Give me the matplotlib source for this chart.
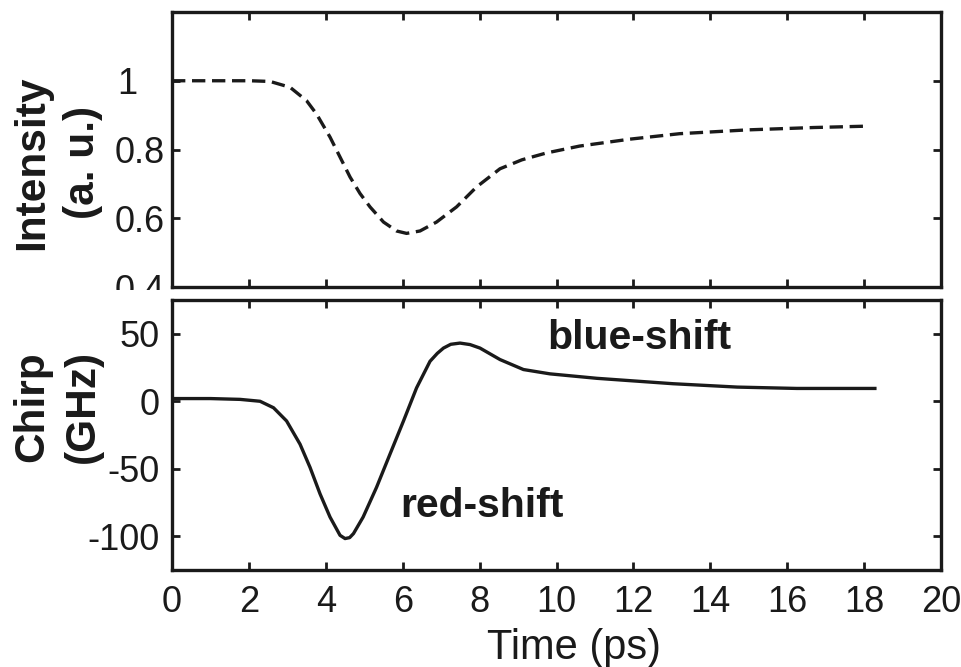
import matplotlib
matplotlib.use("Agg")
import matplotlib.pyplot as plt
from matplotlib.patches import Rectangle

# intensity (dashed, top panel)
t_int = [0, 1, 2.03, 2.55, 3.07, 3.5, 3.76, 4.11, 4.37, 4.63, 4.89, 5.15,
         5.5, 5.84, 6.1, 6.45, 6.88, 7.4, 7.92, 8.53, 9.1, 9.74, 10.6, 11.9,
         13.2, 14.95, 16.7, 18.1]
intensity = [1.0, 1.0, 1.0, 0.998, 0.981, 0.942, 0.903, 0.836, 0.778, 0.720,
             0.672, 0.633, 0.589, 0.563, 0.556, 0.563, 0.589, 0.633, 0.691,
             0.744, 0.770, 0.790, 0.810, 0.830, 0.846, 0.857, 0.864, 0.868]

# chirp (solid, bottom panel)
t_chirp = [0, 1.0, 1.77, 2.29, 2.64, 2.98, 3.33, 3.59, 3.85, 4.11, 4.37, 4.5,
           4.62, 4.72, 4.97, 5.32, 5.67, 6.02, 6.36, 6.71, 6.9, 7.06, 7.25,
           7.49, 7.75, 8.01, 8.53, 9.14, 9.83, 11.05, 13.03, 14.7, 16.25,
           18.28]
chirp = [2, 2, 1.4, 0, -4.8, -14.6, -31.8, -49, -68.6, -85.8, -99.3, -101.7,
         -101, -98, -85.8, -63.7, -39.1, -14.6, 9.9, 29.6, 35.5, 39.4, 42.2,
         43.1, 42, 39.4, 30.9, 23.5, 20.3, 17, 13, 10.5, 9.5, 9.5]

x_ticks = [0, 2, 4, 6, 8, 10, 12, 14, 16, 18, 20]
int_ticks = [0.4, 0.6, 0.8, 1.0]
int_ticklabels = ["0.4", "0.6", "0.8", "1\u2007\u2009"]
chirp_ticks = [-100, -50, 0, 50]

plt.rcParams['font.family'] = ['Liberation Sans', 'DejaVu Sans']
plt.rcParams['axes.unicode_minus'] = False
ink = '#1a1a1a'

fig = plt.figure(figsize=(9.62, 6.67), dpi=100)
ax1 = fig.add_axes([0.1788, 0.5697, 0.7994, 0.4123])
ax2 = fig.add_axes([0.1788, 0.1454, 0.7994, 0.4048])

for ax in (ax1, ax2):
    for sp in ax.spines.values():
        sp.set_linewidth(2.4)
        sp.set_color(ink)
    ax.tick_params(direction='in', top=True, right=True, length=6, width=2,
                   colors=ink, labelsize=26)
    ax.tick_params(axis='x', pad=11)
    ax.set_xlim(0, 20)
    ax.set_xticks(x_ticks)
ax1.tick_params(axis='y', pad=5)
ax2.tick_params(axis='y', pad=9)

ax1.plot(t_int, intensity, color=ink, lw=2.4, dashes=(4, 2))
ax1.set_ylim(0.4, 1.2)
ax1.set_yticks(int_ticks)
ax1.set_yticklabels(int_ticklabels)
ax1.tick_params(axis='x', labelbottom=False)

ax2.plot(t_chirp, chirp, color=ink, lw=2.4)
ax2.set_ylim(-125, 75)
ax2.set_yticks(chirp_ticks)
ax2.set_xlabel("Time (ps)", fontsize=30, color=ink)
ax2.xaxis.set_label_coords(0.523, -0.215)

ax2.text(9.75, 39, "blue-shift", fontsize=29.5, fontweight='bold', color=ink,
         va='baseline', ha='left')
ax2.text(5.93, -86, "red-shift", fontsize=29.5, fontweight='bold', color=ink,
         va='baseline', ha='left')

fig.text(0.060, 0.756, "Intensity\n(a. u.)", rotation=90, fontsize=30.5,
         fontweight='bold', ha='center', va='center', multialignment='center',
         linespacing=1.35, color=ink)
fig.text(0.060, 0.390, "Chirp\n(GHz)", rotation=90, fontsize=30.5,
         fontweight='bold', ha='center', va='center', multialignment='center',
         linespacing=1.35, color=ink)

# the lowest label of the top panel is cut off by the lower panel
clip = Rectangle((0, 0.565), 1, 0.435, transform=fig.transFigure)
lbl = ax1.get_yticklabels()[0]
lbl.set_clip_path(clip)
lbl.set_clip_on(True)

fig.savefig("out.png", dpi=100)
